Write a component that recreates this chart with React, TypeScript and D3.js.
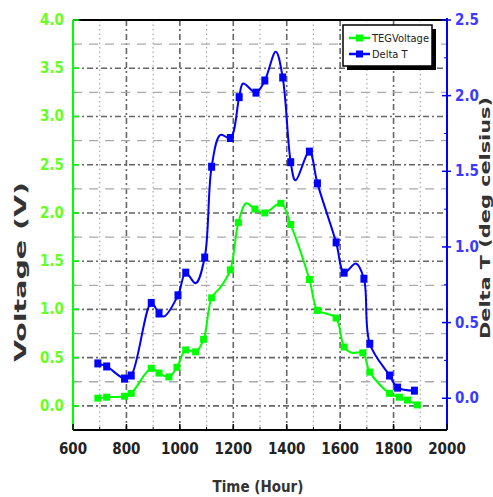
import React from 'react';
import * as d3 from 'd3';

// TEG voltage series
const voltTime = [693, 726, 793, 818, 893, 922, 959, 989, 1022, 1059, 1089, 1119, 1152, 1189, 1219, 1248, 1281, 1318, 1378, 1415, 1485, 1515, 1544, 1585, 1615, 1644, 1685, 1711, 1785, 1822, 1852, 1889];
const voltValue = [0.08, 0.09, 0.10, 0.13, 0.39, 0.34, 0.30, 0.40, 0.58, 0.56, 0.69, 1.12, 1.23, 1.41, 1.90, 2.10, 2.04, 2.00, 2.10, 1.88, 1.31, 0.99, 0.96, 0.91, 0.61, 0.55, 0.55, 0.35, 0.13, 0.09, 0.06, 0.01];
const voltNoMark = [1152, 1248, 1544, 1644];

// Delta T series
const deltaTime = [693, 726, 793, 818, 893, 922, 940, 993, 1022, 1059, 1093, 1119, 1152, 1189, 1222, 1237, 1285, 1318, 1359, 1385, 1415, 1433, 1485, 1515, 1585, 1615, 1659, 1689, 1711, 1785, 1815, 1878];
const deltaValue = [0.23, 0.21, 0.13, 0.15, 0.63, 0.56, 0.54, 0.68, 0.83, 0.76, 0.93, 1.53, 1.74, 1.72, 1.99, 2.08, 2.02, 2.10, 2.29, 2.12, 1.56, 1.44, 1.63, 1.42, 1.03, 0.83, 0.89, 0.79, 0.36, 0.15, 0.07, 0.05];
const deltaNoMark = [940, 1059, 1152, 1237, 1359, 1433, 1659];

const xTicks = [600, 800, 1000, 1200, 1400, 1600, 1800, 2000];
const xMinor = [700, 900, 1100, 1300, 1500, 1700, 1900];
const voltTicks = [0, 0.5, 1, 1.5, 2, 2.5, 3, 3.5, 4];
const voltMinor = [0.25, 0.75, 1.25, 1.75, 2.25, 2.75, 3.25, 3.75];
const deltaTicks = [0, 0.5, 1, 1.5, 2, 2.5];
const deltaMinor = [0.25, 0.75, 1.25, 1.75, 2.25];

const legendLabels = ['TEGVoltage', 'Delta T'];

const GREEN = '#00ff00';
const BLUE = '#0000ff';
const FONT = '"DejaVu Sans Condensed", "Liberation Sans Narrow", "Liberation Sans", sans-serif';

export default function App() {
  const left = 73, right = 447, top = 20, bottom = 430;

  const x = d3.scaleLinear().domain([600, 2000]).range([left, right]);
  const yV = d3.scaleLinear().domain([-0.25, 4]).range([bottom, top]);
  const yD = d3.scaleLinear().domain([-0.21, 2.5]).range([bottom, top]);
  const fmt = d3.format('.1f');

  const voltPts = voltTime.map((t, i) => [t, voltValue[i]] as [number, number]);
  const deltaPts = deltaTime.map((t, i) => [t, deltaValue[i]] as [number, number]);

  const voltLine = d3.line<[number, number]>()
    .x(d => x(d[0])).y(d => yV(d[1]))
    .curve(d3.curveCatmullRom.alpha(0.5));
  const deltaLine = d3.line<[number, number]>()
    .x(d => x(d[0])).y(d => yD(d[1]))
    .curve(d3.curveCatmullRom.alpha(0.5));

  return (
    <div style={{ position: 'absolute', left: 0, top: 0 }}>
      <svg width={493} height={497} style={{ display: 'block', background: '#fff' }}>
        {/* grid */}
        <g>
          {xMinor.map(t => (
            <line key={'xm' + t} x1={x(t)} x2={x(t)} y1={top} y2={bottom}
                  stroke="#aaa" strokeWidth={1.2} strokeDasharray="1.5,3" />
          ))}
          {xTicks.slice(1, -1).map(t => (
            <line key={'xM' + t} x1={x(t)} x2={x(t)} y1={top} y2={bottom}
                  stroke="#666" strokeWidth={1.6} strokeDasharray="6,3,2,3" />
          ))}
          {voltMinor.map(v => (
            <line key={'ym' + v} x1={left} x2={right} y1={yV(v)} y2={yV(v)}
                  stroke="#aaa" strokeWidth={1.3} strokeDasharray="9,7" />
          ))}
          {voltTicks.slice(0, -1).map(v => (
            <line key={'yM' + v} x1={left} x2={right} y1={yV(v)} y2={yV(v)}
                  stroke="#666" strokeWidth={1.6} strokeDasharray="6,3,2,3" />
          ))}
        </g>

        {/* frame */}
        <line x1={left} x2={right} y1={top} y2={top} stroke="#000" strokeWidth={2} />
        <line x1={left} x2={right} y1={bottom} y2={bottom} stroke="#000" strokeWidth={2} />
        <line x1={left} x2={left} y1={top} y2={bottom} stroke={GREEN} strokeWidth={2} />
        <line x1={right} x2={right} y1={top - 2} y2={bottom} stroke={BLUE} strokeWidth={2} />

        {/* x axis */}
        {xTicks.map(t => (
          <g key={'xt' + t}>
            <line x1={x(t)} x2={x(t)} y1={bottom} y2={bottom - 6} stroke="#000" strokeWidth={1.5} />
            <text x={x(t)} y={454} textAnchor="middle" fontFamily={FONT} fontWeight="bold"
                  fontSize={15} fill="#222">{t}</text>
          </g>
        ))}
        {xMinor.map(t => (
          <line key={'xmt' + t} x1={x(t)} x2={x(t)} y1={bottom} y2={bottom - 3} stroke="#000" strokeWidth={1} />
        ))}

        {/* left axis */}
        {voltTicks.map(v => (
          <g key={'vt' + v}>
            <line x1={left} x2={left + 6} y1={yV(v)} y2={yV(v)} stroke={GREEN} strokeWidth={1.5} />
            <text x={64} y={yV(v) + 5} textAnchor="end" fontFamily={FONT} fontWeight="bold"
                  fontSize={15} fill="#66ff22">{fmt(v)}</text>
          </g>
        ))}
        {voltMinor.map(v => (
          <line key={'vmt' + v} x1={left} x2={left + 3} y1={yV(v)} y2={yV(v)} stroke={GREEN} strokeWidth={1} />
        ))}

        {/* right axis */}
        {deltaTicks.map(v => (
          <g key={'dt' + v}>
            <line x1={right - 5} x2={right + 4} y1={yD(v)} y2={yD(v)} stroke={BLUE} strokeWidth={1.5} />
            <text x={455} y={yD(v) + 5} textAnchor="start" fontFamily={FONT} fontWeight="bold"
                  fontSize={15} fill="#3b3bff">{fmt(v)}</text>
          </g>
        ))}
        {deltaMinor.map(v => (
          <line key={'dmt' + v} x1={right - 3} x2={right} y1={yD(v)} y2={yD(v)} stroke={BLUE} strokeWidth={1} />
        ))}

        {/* axis titles */}
        <text transform="translate(26,272) rotate(-90)" textAnchor="middle" fontFamily={FONT}
              fontWeight="bold" fontSize={15} fill="#333" textLength={180} lengthAdjust="spacingAndGlyphs">
          Voltage (V)
        </text>
        <text transform="translate(490,218) rotate(-90)" textAnchor="middle" fontFamily={FONT}
              fontWeight="bold" fontSize={14} fill="#333" textLength={242} lengthAdjust="spacingAndGlyphs">
          Delta T (deg celsius)
        </text>
        <text x={258} y={492} textAnchor="middle" fontFamily={FONT} fontWeight="bold"
              fontSize={15} fill="#333">Time (Hour)</text>

        {/* series */}
        <path d={voltLine(voltPts) || ''} fill="none" stroke={GREEN} strokeWidth={2} />
        {voltPts.filter(d => !voltNoMark.includes(d[0])).map(d => (
          <rect key={'vp' + d[0]} x={x(d[0]) - 3.5} y={yV(d[1]) - 3.5} width={7} height={7} fill={GREEN} />
        ))}
        <path d={deltaLine(deltaPts) || ''} fill="none" stroke={BLUE} strokeWidth={2} />
        {deltaPts.filter(d => !deltaNoMark.includes(d[0])).map(d => (
          <rect key={'dp' + d[0]} x={x(d[0]) - 3.5} y={yD(d[1]) - 4} width={7} height={8} fill={BLUE} />
        ))}

        {/* legend */}
        <rect x={347} y={29} width={89} height={41} fill="#000" />
        <rect x={343} y={25} width={89} height={41} fill="#fff" stroke="#000" strokeWidth={1.5} />
        {legendLabels.map((label, i) => {
          const ly = 38 + i * 16;
          const c = i === 0 ? GREEN : BLUE;
          return (
            <g key={label}>
              <line x1={349} x2={370} y1={ly} y2={ly} stroke={c} strokeWidth={2.5} />
              <rect x={356} y={ly - 3.5} width={7} height={7} fill={c} />
              <text x={372} y={ly + 4} fontFamily={FONT} fontSize={11} fill="#222">{label}</text>
            </g>
          );
        })}
      </svg>
    </div>
  );
}
